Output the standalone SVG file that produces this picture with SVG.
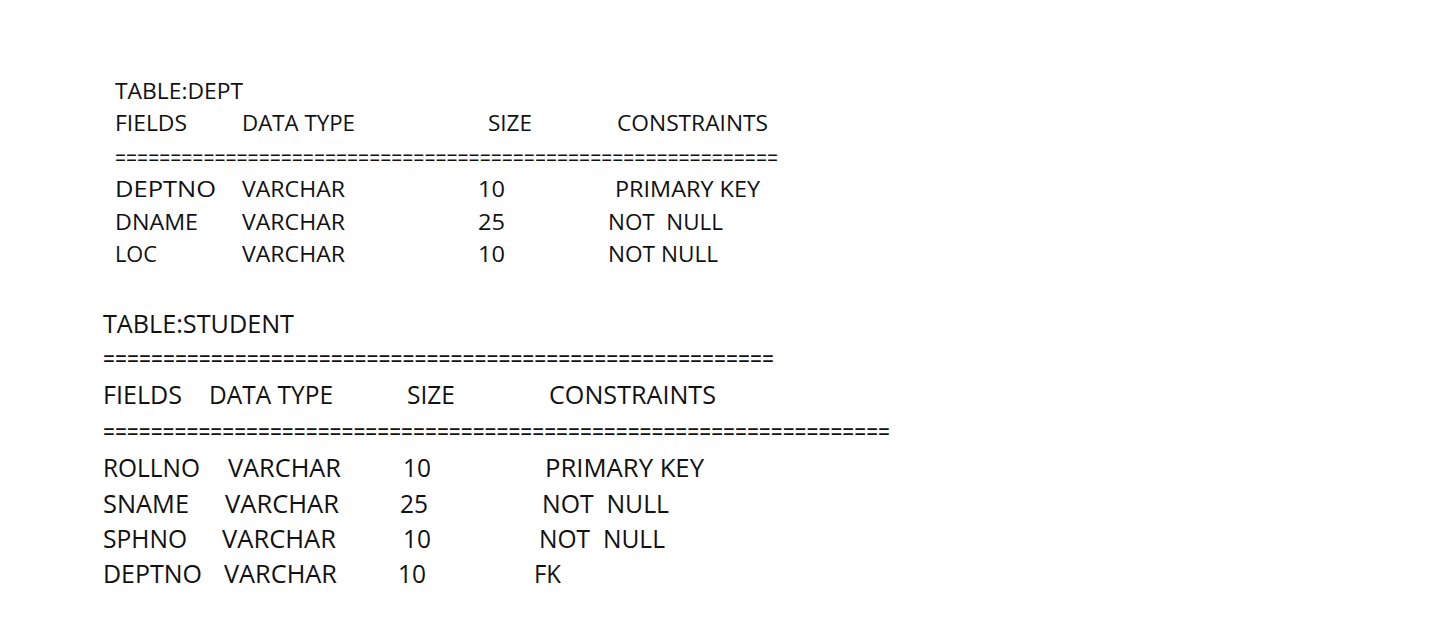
<svg xmlns="http://www.w3.org/2000/svg" width="1443" height="633" viewBox="0 0 1443 633">
<style>
text{font-family:"Open Sans","Liberation Sans",sans-serif;fill:#111;}
.a{font-size:21px;}
.b{font-size:25px;}
.ea{font-size:23px;}
.eb{font-size:26px;}
</style>
<rect x="0" y="0" width="1443" height="633" fill="#fff"/>
<g id="dept">
<text class="a" x="115" y="99" textLength="128" lengthAdjust="spacingAndGlyphs">TABLE:DEPT</text>
<text class="a" x="115" y="131" textLength="72" lengthAdjust="spacingAndGlyphs">FIELDS</text>
<text class="a" x="242" y="131" textLength="113" lengthAdjust="spacingAndGlyphs">DATA TYPE</text>
<text class="a" x="488" y="131" textLength="44" lengthAdjust="spacingAndGlyphs">SIZE</text>
<text class="a" x="617" y="131" textLength="151" lengthAdjust="spacingAndGlyphs">CONSTRAINTS</text>
<text class="ea" x="115" y="166" textLength="663" lengthAdjust="spacingAndGlyphs">============================================================</text>
<text class="a" x="115" y="197" textLength="101" lengthAdjust="spacingAndGlyphs">DEPTNO</text>
<text class="a" x="242" y="197" textLength="103" lengthAdjust="spacingAndGlyphs">VARCHAR</text>
<text class="a" x="478" y="197" textLength="27" lengthAdjust="spacingAndGlyphs">10</text>
<text class="a" x="615" y="197" textLength="145" lengthAdjust="spacingAndGlyphs">PRIMARY KEY</text>
<text class="a" x="115" y="230" textLength="83" lengthAdjust="spacingAndGlyphs">DNAME</text>
<text class="a" x="242" y="230" textLength="103" lengthAdjust="spacingAndGlyphs">VARCHAR</text>
<text class="a" x="478" y="230" textLength="27" lengthAdjust="spacingAndGlyphs">25</text>
<text class="a" x="608" y="230" textLength="115" lengthAdjust="spacingAndGlyphs" xml:space="preserve">NOT  NULL</text>
<text class="a" x="115" y="262" textLength="42" lengthAdjust="spacingAndGlyphs">LOC</text>
<text class="a" x="242" y="262" textLength="103" lengthAdjust="spacingAndGlyphs">VARCHAR</text>
<text class="a" x="478" y="262" textLength="27" lengthAdjust="spacingAndGlyphs">10</text>
<text class="a" x="608" y="262" textLength="110" lengthAdjust="spacingAndGlyphs">NOT NULL</text>
</g>
<g id="student">
<text class="b" x="103" y="333" textLength="191" lengthAdjust="spacingAndGlyphs">TABLE:STUDENT</text>
<text class="eb" x="103" y="368" textLength="671" lengthAdjust="spacingAndGlyphs">========================================================</text>
<text class="b" x="103" y="404" textLength="79" lengthAdjust="spacingAndGlyphs">FIELDS</text>
<text class="b" x="209" y="404" textLength="124" lengthAdjust="spacingAndGlyphs">DATA TYPE</text>
<text class="b" x="407" y="404" textLength="48" lengthAdjust="spacingAndGlyphs">SIZE</text>
<text class="b" x="549" y="404" textLength="167" lengthAdjust="spacingAndGlyphs">CONSTRAINTS</text>
<text class="eb" x="103" y="441" textLength="787" lengthAdjust="spacingAndGlyphs">==================================================================</text>
<text class="b" x="103" y="477" textLength="97" lengthAdjust="spacingAndGlyphs">ROLLNO</text>
<text class="b" x="228" y="477" textLength="113" lengthAdjust="spacingAndGlyphs">VARCHAR</text>
<text class="b" x="403" y="477" textLength="28" lengthAdjust="spacingAndGlyphs">10</text>
<text class="b" x="545" y="477" textLength="159" lengthAdjust="spacingAndGlyphs">PRIMARY KEY</text>
<text class="b" x="103" y="513" textLength="86" lengthAdjust="spacingAndGlyphs">SNAME</text>
<text class="b" x="225" y="513" textLength="114" lengthAdjust="spacingAndGlyphs">VARCHAR</text>
<text class="b" x="400" y="513" textLength="28" lengthAdjust="spacingAndGlyphs">25</text>
<text class="b" x="542" y="513" textLength="127" lengthAdjust="spacingAndGlyphs" xml:space="preserve">NOT  NULL</text>
<text class="b" x="103" y="548" textLength="84" lengthAdjust="spacingAndGlyphs">SPHNO</text>
<text class="b" x="222" y="548" textLength="114" lengthAdjust="spacingAndGlyphs">VARCHAR</text>
<text class="b" x="403" y="548" textLength="28" lengthAdjust="spacingAndGlyphs">10</text>
<text class="b" x="539" y="548" textLength="126" lengthAdjust="spacingAndGlyphs" xml:space="preserve">NOT  NULL</text>
<text class="b" x="103" y="583" textLength="99" lengthAdjust="spacingAndGlyphs">DEPTNO</text>
<text class="b" x="224" y="583" textLength="113" lengthAdjust="spacingAndGlyphs">VARCHAR</text>
<text class="b" x="398" y="583" textLength="28" lengthAdjust="spacingAndGlyphs">10</text>
<text class="b" x="534" y="583" textLength="27" lengthAdjust="spacingAndGlyphs">FK</text>
</g>
</svg>
